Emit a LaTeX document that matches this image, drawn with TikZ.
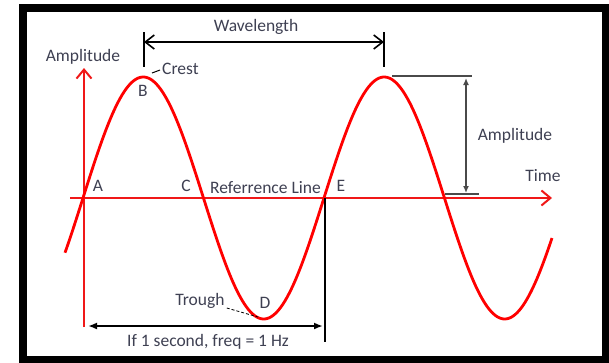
\documentclass[tikz,border=0pt]{standalone}
\usepackage{fontspec}
\setmainfont{Carlito}
\usetikzlibrary{arrows.meta}
\definecolor{ondaRojo}{HTML}{FF0000}
\definecolor{ejeRojo}{HTML}{F01818}
\definecolor{txtGris}{HTML}{3E4052}
\definecolor{cotaGris}{HTML}{4A4A4A}

\begin{document}
\begin{tikzpicture}[x=1pt,y=-1pt,
    every node/.style={font=\fontsize{17.5}{20}\selectfont, text=txtGris, inner sep=0pt},
    eje/.style={draw=ejeRojo, line width=2.4pt, -{Straight Barb[length=9pt,width=15pt,line width=2pt]}},
    cota/.style={draw=black, line width=2pt}]
      \useasboundingbox (0,0) rectangle (609,362);
      \draw[line width=8pt] (23,8) rectangle (605.5,360);
      % ejes
      \coordinate (ejeXizq) at (70,198);
      \coordinate (ejeXder) at (552,198);
      \coordinate (ejeYabajo) at (84,327);
      \coordinate (ejeYarriba) at (84,68);
      \draw[eje] (ejeXizq) -- (ejeXder);
      \draw[eje] (ejeYabajo) -- (ejeYarriba);
      % onda
      \draw[ondaRojo, line width=2.8pt, line join=round]
        plot[domain=65:552, samples=240, smooth] (\x, {198-121*sin((\x-83)*1.494)});
      % textos
      \node (amplitudY) at (83,57) {Amplitude};
      \node[anchor=west] (cresta) at (162,69) {Crest};
      \node (ptoB) at (143,91) {B};
      \node (ptoA) at (98,186) {A};
      \node (ptoC) at (186,186) {C};
      \node[anchor=west] (lineaRef) at (210,188) {Referrence Line};
      \node (ptoE) at (341,186) {E};
      \node (ptoD) at (265,303) {D};
      \node (valle) at (200,301) {Trough};
      \node (tiempo) at (543,176) {Time};
      \node (amplitudX) at (515,136) {Amplitude};
      \node (longOnda) at (256,27) {Wavelength};
      \node (frecuencia) at (208,342) {If 1 second, freq = 1 Hz};
      % longitud de onda
      \coordinate (lambdaIzq) at (144,42);
      \coordinate (lambdaDer) at (384,42);
      \draw[cota] (144,32) -- (144,67);
      \draw[cota] (384,32) -- (384,67);
      \draw[cota, {Straight Barb[length=9pt,width=14pt,line width=1.6pt]}-{Straight Barb[length=9pt,width=14pt,line width=1.6pt]}]
        (lambdaIzq) -- (lambdaDer);
      % amplitud
      \coordinate (ampArriba) at (466,78);
      \coordinate (ampAbajo) at (466,193);
      \draw[cotaGris, line width=2.4pt] (392,76) -- (472,76);
      \draw[cotaGris, line width=2.4pt] (445,194) -- (479,194);
      \draw[cotaGris, line width=1.8pt, {Latex[length=7pt,width=6pt]}-{Latex[length=7pt,width=6pt]}]
        (ampArriba) -- (ampAbajo);
      % periodo
      \coordinate (perIzq) at (88,326);
      \coordinate (perDer) at (323,326);
      \draw[cota] (325,198) -- (325,342);
      \draw[cota, {Latex[length=9pt,width=7pt]}-{Latex[length=9pt,width=7pt]}] (perIzq) -- (perDer);
      % guias
      \draw[black, line width=1pt] (152,73) -- (160,70);
      \draw[black, line width=0.8pt, densely dashed] (valle.east) ++(2,7) -- (258,317);
    \end{tikzpicture}
\end{document}
